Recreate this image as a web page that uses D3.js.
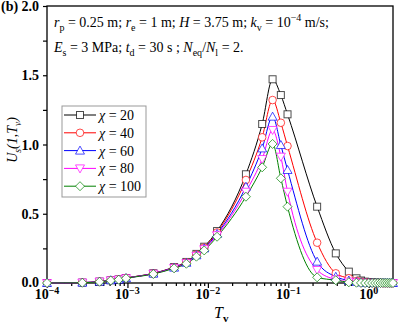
<!DOCTYPE html>
<html><head><meta charset="utf-8">
<script src="https://cdn.jsdelivr.net/npm/d3@7/dist/d3.min.js"></script>
<style>
html,body{margin:0;padding:0;background:#fff;}
svg{display:block;font-family:"Liberation Serif","Times New Roman",serif;}
</style></head>
<body><svg id="c" width="400" height="330"></svg>
<script>
// ---- data ----
const tv = [1e-4, 2.75e-4, 4.5e-4, 6.2e-4, 7.8e-4, 9.6e-4, 2.1e-3, 3.8e-3, 5.4e-3, 7.2e-3, 9.0e-3, 0.0130,
  0.0297, 0.0473, 0.0637, 0.0807, 0.0977, 0.228, 0.389, 0.565, 0.703,
  0.8, 0.9, 1.0, 1.1, 1.2, 1.3, 1.4, 1.5, 1.6, 1.7, 1.8, 1.9, 2.0];
const chi20  = [0, 0.003, 0.010, 0.020, 0.026, 0.036, 0.070, 0.115, 0.152, 0.210, 0.262, 0.375,
  0.785, 1.148, 1.471, 1.357, 1.218, 0.551, 0.214, 0.082, 0.034,
  0.018, 0.010, 0.006, 0.004, 0.003, 0.002, 0.001, 0.001, 0.0005, 0, 0, 0, 0];
const chi40  = [0, 0.003, 0.010, 0.020, 0.026, 0.036, 0.069, 0.113, 0.149, 0.205, 0.256, 0.365,
  0.744, 1.052, 1.321, 1.157, 0.989, 0.291, 0.070, 0.034, 0.015,
  0.008, 0.005, 0.003, 0.002, 0.001, 0.001, 0.0005, 0, 0, 0, 0, 0, 0];
const chi60  = [0, 0.003, 0.010, 0.020, 0.025, 0.035, 0.068, 0.111, 0.146, 0.200, 0.250, 0.355,
  0.695, 0.972, 1.201, 0.996, 0.816, 0.154, 0.045, 0.018, 0.008,
  0.004, 0.002, 0.001, 0.001, 0, 0, 0, 0, 0, 0, 0, 0, 0];
const chi80  = [0, 0.003, 0.010, 0.019, 0.025, 0.035, 0.067, 0.109, 0.143, 0.196, 0.244, 0.345,
  0.659, 0.895, 1.105, 0.912, 0.659, 0.094, 0.025, 0.010, 0.004,
  0.002, 0.001, 0.001, 0, 0, 0, 0, 0, 0, 0, 0, 0, 0];
const chi100 = [0, 0.002, 0.009, 0.018, 0.024, 0.034, 0.065, 0.106, 0.139, 0.190, 0.235, 0.334,
  0.623, 0.835, 1.004, 0.756, 0.551, 0.041, 0.020, 0.005, 0.002,
  0.001, 0, 0, 0, 0, 0, 0, 0, 0, 0, 0, 0, 0];
const seriesNames = ["20", "40", "60", "80", "100"];
const seriesValues = [chi20, chi40, chi60, chi80, chi100];
const seriesColors = ["#000000", "#ff0000", "#0000ff", "#ff00ff", "#008000"];
const seriesSymbols = ["square", "circle", "triUp", "triDown", "diamond"];
const xMajorTicks = [1e-4, 1e-3, 1e-2, 1e-1, 1e0];
const xTickExp = ["\u22124", "\u22123", "\u22122", "\u22121", "0"];
const yTicks = [0, 0.5, 1.0, 1.5, 2.0];

// ---- layout ----
const svg = d3.select("#c");
const L = 47, R = 393, T = 6, B = 283;
const x = d3.scaleLog().domain([1e-4, 2]).range([L, R]);
const y = d3.scaleLinear().domain([0, 2]).range([B, T]);

// frame
svg.append("rect").attr("x", L).attr("y", T).attr("width", R - L).attr("height", B - T)
  .attr("fill", "none").attr("stroke", "#000").attr("stroke-width", 1.3);

// x axis
const xMinor = [];
for (let e = -4; e <= 0; e++) for (let m = 2; m <= 9; m++) { const v = m * Math.pow(10, e); if (v <= 2) xMinor.push(v); }
const gx = svg.append("g").attr("transform", `translate(0,${B})`);
gx.call(d3.axisBottom(x).tickValues(xMinor).tickSize(3).tickFormat(""));
gx.call(g => g.select(".domain").remove());
const gxMaj = svg.append("g").attr("transform", `translate(0,${B})`)
  .call(d3.axisBottom(x).tickValues(xMajorTicks).tickSize(5).tickPadding(5).tickFormat(""));
gxMaj.select(".domain").remove();
svg.selectAll(".tick line").attr("stroke", "#000").attr("stroke-width", 1.2);
const xl = svg.append("g");
xMajorTicks.forEach((v, i) => {
  const t = xl.append("text").attr("x", x(v)).attr("y", B + 16).attr("text-anchor", "middle")
    .attr("font-size", 14).attr("font-weight", "bold");
  t.append("tspan").text("10");
  t.append("tspan").attr("dy", -5).attr("font-size", 10).text(xTickExp[i]);
});

// y axis
const gy = svg.append("g").attr("transform", `translate(${L},0)`)
  .call(d3.axisLeft(y).tickValues(d3.range(0, 2.01, 0.25)).tickSize(4).tickFormat(""));
gy.select(".domain").remove();
gy.selectAll(".tick line").attr("stroke", "#000").attr("stroke-width", 1.2);
yTicks.forEach(v => {
  svg.append("text").attr("x", 39).attr("y", y(v) + (v === 0 ? 4 : 5)).attr("text-anchor", "end")
    .attr("font-size", 14).attr("font-weight", "bold").text(v.toFixed(1));
});
svg.append("text").attr("x", 1).attr("y", 11).attr("font-size", 14).attr("font-weight", "bold").text("(b)");

// axis titles
const xt = svg.append("text").attr("x", 214).attr("y", 318).attr("font-size", 16).attr("font-style", "italic");
xt.append("tspan").text("T");
xt.append("tspan").attr("dy", 4).attr("font-size", 11).attr("font-style", "normal").attr("font-weight", "bold").text("v");
const yt = svg.append("text").attr("transform", "translate(17,140) rotate(-90)").attr("text-anchor", "middle")
  .attr("font-size", 14).attr("font-style", "italic");
yt.append("tspan").text("U");
yt.append("tspan").attr("dy", 4).attr("font-size", 9.5).text("s");
yt.append("tspan").attr("dy", -4).text("(1,");
yt.append("tspan").text("T");
yt.append("tspan").attr("dy", 4).attr("font-size", 9.5).text("v");
yt.append("tspan").attr("dy", -4).text(")");

// annotation
function rich(parent, xx, yy, parts) {
  const t = parent.append("text").attr("x", xx).attr("y", yy).attr("font-size", 14);
  parts.forEach(p => {
    const s = t.append("tspan").text(p[0]);
    if (p[1] === "i") s.attr("font-style", "italic");
    if (p[1] === "sub") s.attr("font-size", 10).attr("dy", 4);
    if (p[1] === "sup") s.attr("font-size", 10).attr("dy", -6);
    if (p[2]) s.attr("dy", p[2]);
  });
  return t;
}
rich(svg, 54, 27, [["r","i"],["p","sub"],[" = 0.25 m; ","",-4],["r","i"],["e","sub"],[" = 1 m; ","",-4],
  ["H","i"],[" = 3.75 m; "],["k","i"],["v","sub"],[" = 10","",-4],["\u22124","sup"],[" m/s;","",6]]);
rich(svg, 54, 52, [["E","i"],["s","sub"],[" = 3 MPa; ","",-4],["t","i"],["d","sub"],[" = 30 s ; ","",-4],
  ["N","i"],["eq","sub"],["/","",-4],["N","i"],["l","sub"],[" = 2.","",-4]]);

// symbols
function drawSymbol(g, type, cx, cy, color) {
  let el;
  if (type === "square") el = g.append("rect").attr("x", cx - 3.5).attr("y", cy - 3.5).attr("width", 7).attr("height", 7);
  else if (type === "circle") el = g.append("circle").attr("cx", cx).attr("cy", cy).attr("r", 3.8);
  else if (type === "triUp") el = g.append("path").attr("d", `M${cx},${cy - 4.5}L${cx + 4.5},${cy + 3.5}L${cx - 4.5},${cy + 3.5}Z`);
  else if (type === "triDown") el = g.append("path").attr("d", `M${cx},${cy + 4.5}L${cx + 4.5},${cy - 3.5}L${cx - 4.5},${cy - 3.5}Z`);
  else el = g.append("path").attr("d", `M${cx},${cy - 4.5}L${cx + 4.5},${cy}L${cx},${cy + 4.5}L${cx - 4.5},${cy}Z`);
  el.attr("fill", "#fff").attr("stroke", color).attr("stroke-opacity", 0.7).attr("stroke-width", 1);
}

const line = d3.line().x(d => x(d[0])).y(d => y(d[1])).curve(d3.curveMonotoneX);
const plot = svg.append("g");
seriesValues.forEach((vals, i) => {
  const pts = tv.map((t, j) => [t, vals[j]]);
  plot.append("path").attr("d", line(pts)).attr("fill", "none").attr("stroke", seriesColors[i]).attr("stroke-width", 1);
});
seriesValues.forEach((vals, i) => {
  const g = plot.append("g");
  tv.forEach((t, j) => drawSymbol(g, seriesSymbols[i], x(t), y(vals[j]), seriesColors[i]));
});

// legend
const lg = svg.append("g");
lg.append("rect").attr("x", 62).attr("y", 106).attr("width", 84).attr("height", 91)
  .attr("fill", "#fff").attr("stroke", "#999").attr("stroke-width", 1);
seriesNames.forEach((n, i) => {
  const yy = 115 + i * 17.8;
  lg.append("line").attr("x1", 64).attr("x2", 96).attr("y1", yy).attr("y2", yy)
    .attr("stroke", seriesColors[i]).attr("stroke-width", 1);
  drawSymbol(lg, seriesSymbols[i], 80, yy, seriesColors[i]);
  const t = lg.append("text").attr("x", 99).attr("y", yy + 5).attr("font-size", 14);
  t.append("tspan").attr("font-style", "italic").text("\u03c7");
  t.append("tspan").text(" = " + n);
});
</script></body></html>
